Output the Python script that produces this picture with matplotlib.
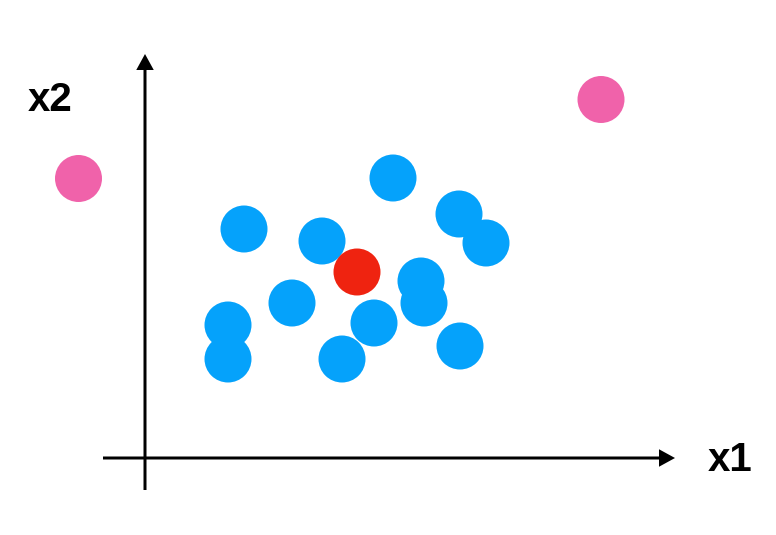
import numpy as np
import matplotlib
matplotlib.use("Agg")
import matplotlib.pyplot as plt
from matplotlib.patches import Circle

# feature space points (x1, x2)
blue_x1 = [24.8, 31.4, 34.1, 9.9, 17.7, 27.6, 27.9, 14.7, 8.3, 22.9, 8.3, 19.7, 31.5]
blue_x2 = [28.0, 24.4, 21.5, 22.9, 21.7, 17.7, 15.5, 15.5, 13.3, 13.5, 9.9, 9.9, 11.2]
red_x1 = [21.2]
red_x2 = [18.6]
pink_x1 = [-6.65, 45.6]
pink_x2 = [27.95, 35.85]

radius = 2.35

fig = plt.figure(figsize=(7.76, 5.35), dpi=100)
ax = fig.add_axes([0, 0, 1, 1])
ax.set_xlim(-14.5, 63.1)
ax.set_ylim(-7.7, 45.8)
ax.set_aspect('equal')
ax.axis('off')

# axes arrows
ax.arrow(0, -3.2, 0, 43.6, width=0.3, head_width=1.75, head_length=1.6,
         length_includes_head=True, fc='black', ec='none')
ax.arrow(-4.2, 0, 57.2, 0, width=0.3, head_width=1.75, head_length=1.6,
         length_includes_head=True, fc='black', ec='none')

ax.text(-9.5, 35.8, "x2", fontsize=29, fontweight='bold', family='Liberation Sans',
        ha='center', va='center')
ax.text(58.5, -0.2, "x1", fontsize=29, fontweight='bold', family='Liberation Sans',
        ha='center', va='center')

for xs, ys, c in [(blue_x1, blue_x2, '#05A2FB'),
                  (red_x1, red_x2, '#EF2310'),
                  (pink_x1, pink_x2, '#F062AA')]:
    for x, y in zip(xs, ys):
        ax.add_patch(Circle((x, y), radius, color=c, ec='none'))

plt.savefig("out.png", dpi=100)
